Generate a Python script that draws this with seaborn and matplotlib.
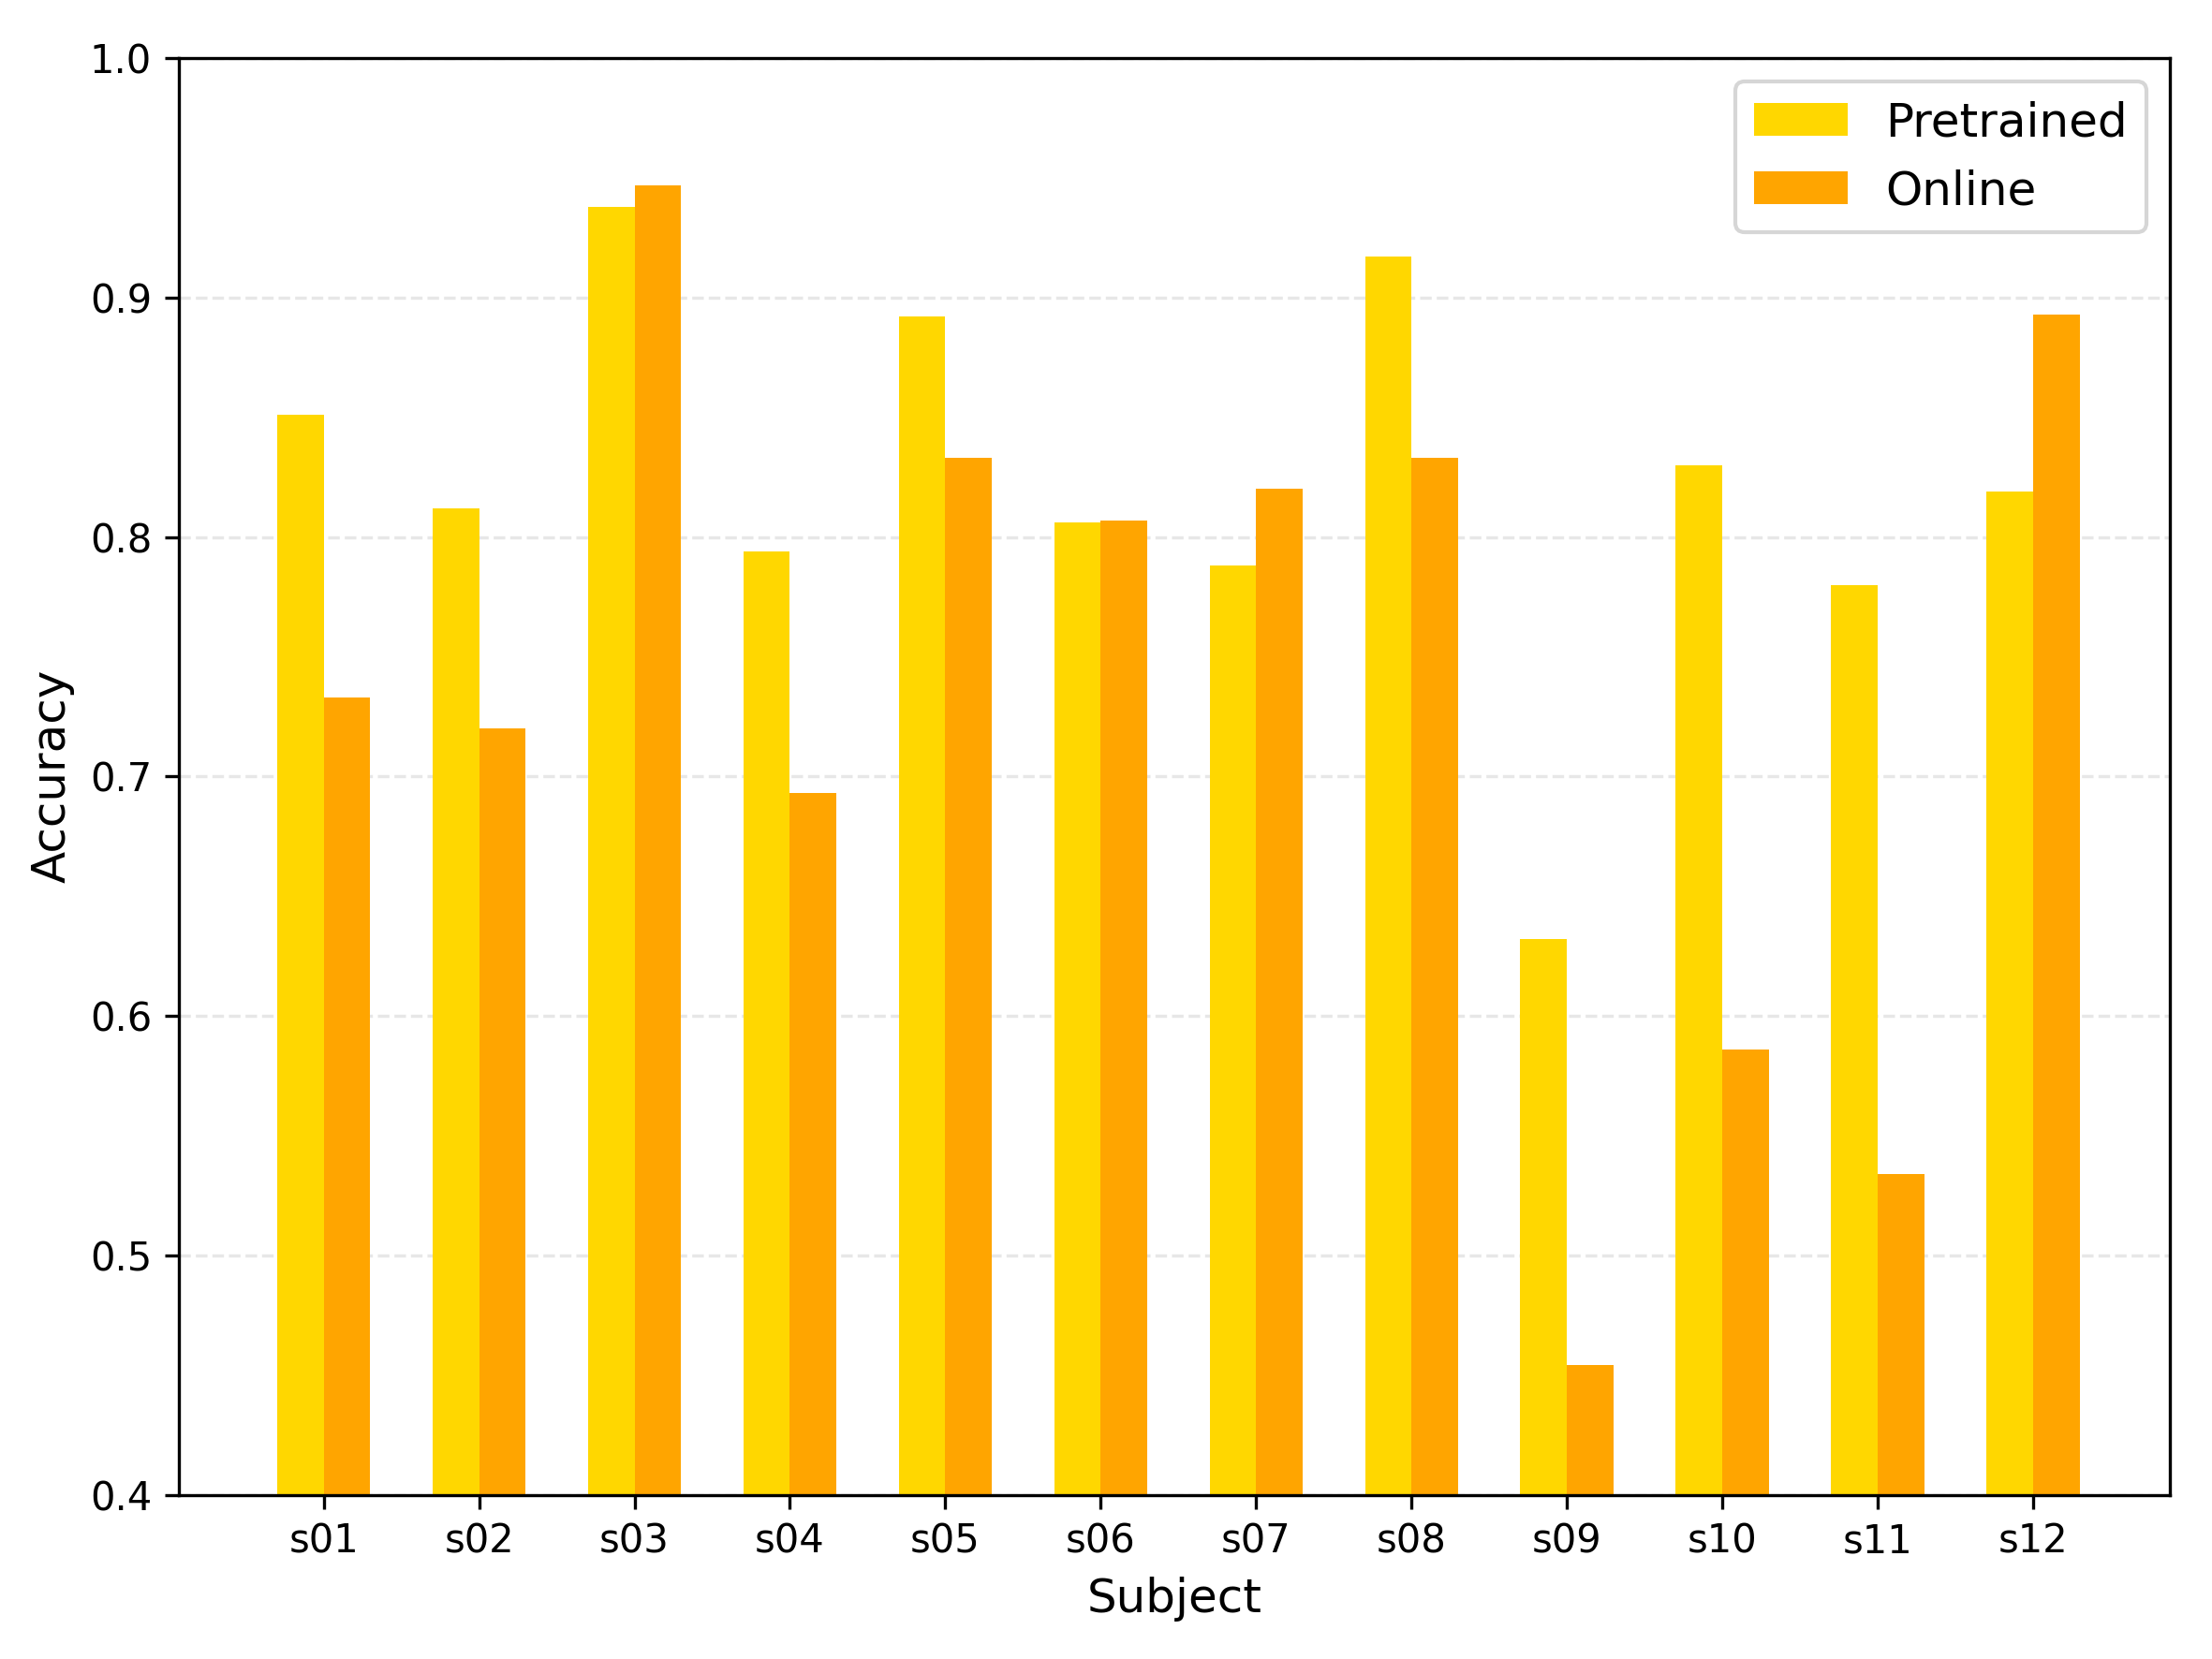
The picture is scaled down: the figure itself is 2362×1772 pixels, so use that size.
import matplotlib
matplotlib.use('Agg')
import matplotlib.pyplot as plt
import seaborn as sns
import pandas as pd

sujetos = ['s01', 's02', 's03', 's04', 's05', 's06', 's07', 's08', 's09', 's10', 's11', 's12']
pretrained = [0.851, 0.812, 0.938, 0.794, 0.892, 0.806, 0.788, 0.917, 0.632, 0.830, 0.780, 0.819]
online = [0.733, 0.720, 0.947, 0.693, 0.833, 0.807, 0.820, 0.833, 0.454, 0.586, 0.534, 0.893]
metodos = ['Pretrained', 'Online']
colores = ['#FFD700', '#FFA500']

df = pd.DataFrame({
    'Subject': sujetos * 2,
    'Accuracy': pretrained + online,
    'Method': [metodos[0]] * len(sujetos) + [metodos[1]] * len(sujetos),
})

fig, ax = plt.subplots(figsize=(2362 / 300, 1772 / 300), dpi=300)
sns.barplot(data=df, x='Subject', y='Accuracy', hue='Method', palette=colores,
            width=0.6, saturation=1, linewidth=0, ax=ax)

ax.set_ylim(0.4, 1.0)
ax.set_xlim(-0.93, len(sujetos) - 1 + 0.88)
ax.set_xlabel('Subject', fontsize=12)
ax.set_ylabel('Accuracy', fontsize=12)
ax.grid(axis='y', linestyle='--', alpha=0.3)
ax.set_axisbelow(True)
ax.legend(loc='upper right', fontsize=12)

fig.subplots_adjust(left=0.081, right=0.981, top=0.965, bottom=0.099)
fig.savefig('out.png', dpi=300)
